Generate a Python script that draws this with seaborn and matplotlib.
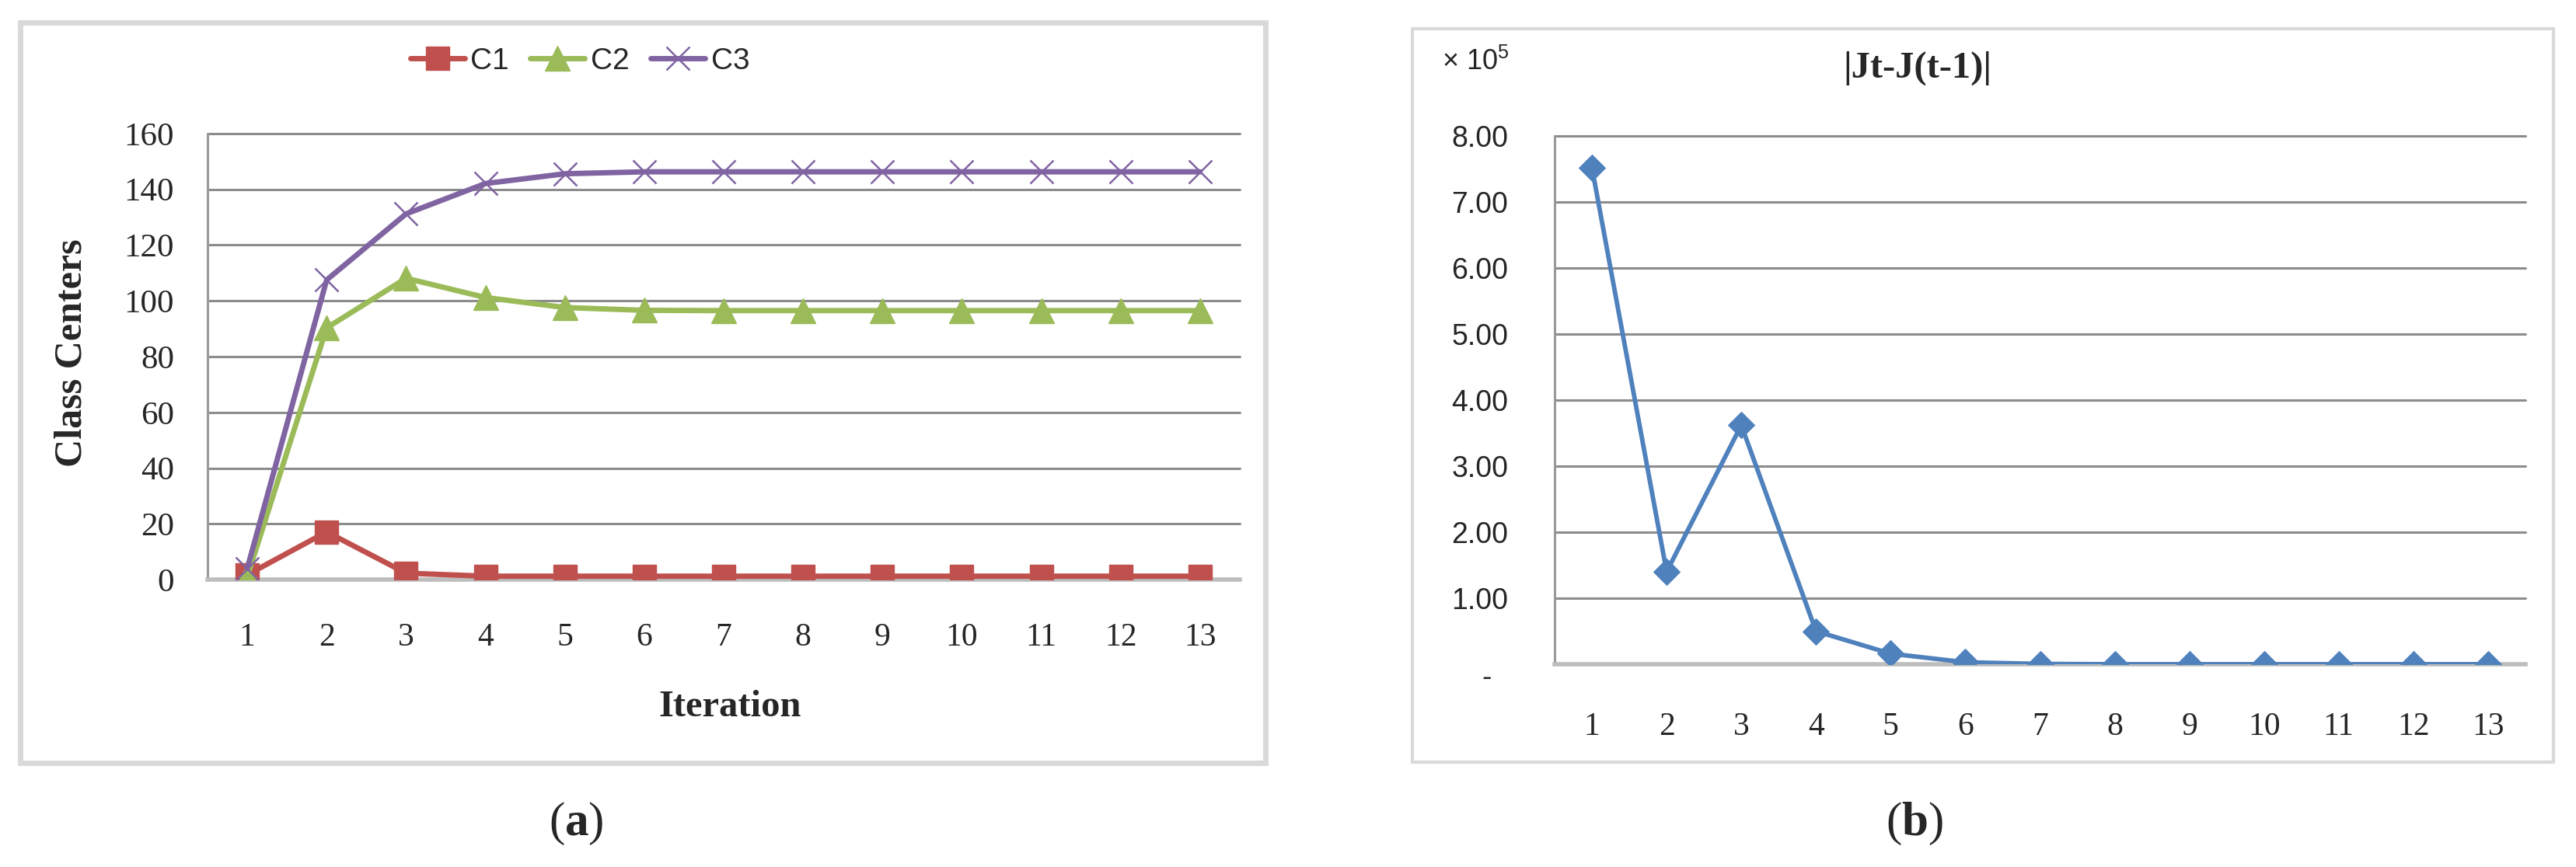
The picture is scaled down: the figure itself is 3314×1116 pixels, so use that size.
import numpy as np
import pandas as pd
import matplotlib
matplotlib.use('Agg')
import matplotlib.pyplot as plt
import seaborn as sns
from matplotlib.patches import Rectangle

# data
iterations = list(range(1, 14))
c1 = [1.7, 17.1, 2.3, 1.2, 1.2, 1.2, 1.2, 1.2, 1.2, 1.2, 1.2, 1.2, 1.2]
c2 = [1.0, 90.3, 108.1, 101.2, 97.6, 96.6, 96.5, 96.5, 96.5, 96.5, 96.5, 96.5, 96.5]
c3 = [4.0, 107.5, 131.2, 142.1, 145.6, 146.3, 146.3, 146.3, 146.3, 146.3, 146.3, 146.3, 146.3]
j_diff = [7.52, 1.40, 3.62, 0.50, 0.16, 0.03, 0.005, 0.0, 0.0, 0.0, 0.0, 0.0, 0.0]  # x 10^5
y_labels_b = ['-  ', '1.00', '2.00', '3.00', '4.00', '5.00', '6.00', '7.00', '8.00']

centers = pd.DataFrame({'Iteration': iterations, 'C1': c1, 'C2': c2, 'C3': c3})
jdf = pd.DataFrame({'Iteration': iterations, 'J': j_diff})

sns.set_style('white')
plt.rcParams['mathtext.fontset'] = 'custom'
plt.rcParams['mathtext.rm'] = 'Liberation Sans'
plt.rcParams['mathtext.bf'] = 'Liberation Serif:bold'

W, H = 3314, 1116
fig = plt.figure(figsize=(W / 100, H / 100), dpi=100)

def px(x0, y0, x1, y1):
    return [x0 / W, 1 - y1 / H, (x1 - x0) / W, (y1 - y0) / H]

# panel frames
fig.patches.append(Rectangle((26 / W, 1 - 982 / H), (1628 - 26) / W, (982 - 29) / H,
                             transform=fig.transFigure, fill=False, ec='#d9d9d9', lw=5))
fig.patches.append(Rectangle((1817 / W, 1 - 981 / H), (3285 - 1817) / W, (981 - 37) / H,
                             transform=fig.transFigure, fill=False, ec='#d9d9d9', lw=3))

grid_c = '#8c8c8c'
axis_c = '#bdbdbd'

ax1 = fig.add_axes(px(267, 172, 1595, 746))
ax2 = fig.add_axes(px(2000, 175, 3249, 855))

# (a) class centers
styles = {'C1': ('#C0504D', 's', 22, 1), 'C2': ('#9BBB59', '^', 23, 1), 'C3': ('#8064A2', 'x', 21, 1.8)}
for name, (col, mk, ms, mew) in styles.items():
    sns.lineplot(data=centers, x='Iteration', y=name, ax=ax1, color=col, lw=5,
                 marker=mk, mec=col, mew=mew, label=name, zorder=3)
    ax1.lines[-1].set_markersize(ms)

# (b) |Jt-J(t-1)|
sns.lineplot(data=jdf, x='Iteration', y='J', ax=ax2, color='#4F81BD', lw=4.2,
             marker='D', mec='#4F81BD', legend=False, zorder=3)
ax2.lines[-1].set_markersize(17)

for ax in (ax1, ax2):
    ax.set_xlim(0.5, 13.5)
    ax.set_xticks(np.arange(0.5, 14, 1))
    ax.set_xticklabels([])
    ax.tick_params(axis='x', which='major', length=11, width=2.8, color=axis_c, direction='out')
    ax.set_xlabel('')
    ax.set_ylabel('')
    ax.spines['top'].set_visible(False)
    ax.spines['right'].set_visible(False)
    ax.spines['left'].set_color('#9a9a9a')
    ax.spines['left'].set_linewidth(2.2)
    ax.spines['bottom'].set_color(axis_c)
    ax.spines['bottom'].set_linewidth(4)
    ax.yaxis.grid(True, color=grid_c, lw=2.2)
    for gl in ax.get_ygridlines():
        gl.set_clip_on(False)
    ax.set_axisbelow(True)

ax1.set_xticks(iterations, labels=[str(i) for i in iterations], minor=True)
ax1.tick_params(axis='x', which='minor', length=0, pad=40)
for t in ax1.get_xticklabels(minor=True):
    t.set_fontfamily('Liberation Serif')
    t.set_fontsize(30)
ax1.set_ylim(0, 160)
ax1.set_yticks(range(0, 161, 20))
ax1.tick_params(axis='y', length=11, width=2.2, color=grid_c, pad=20)
for t in ax1.get_yticklabels():
    t.set_fontfamily('Liberation Serif')
    t.set_fontsize(31)

ax2.set_xticks(iterations, labels=[str(i) for i in iterations], minor=True)
ax2.tick_params(axis='x', which='minor', length=0, pad=44)
for t in ax2.get_xticklabels(minor=True):
    t.set_fontfamily('Liberation Serif')
    t.set_fontsize(30)
ax2.set_ylim(0, 8)
ax2.set_yticks(range(0, 9), labels=y_labels_b)
ax2.tick_params(axis='y', length=9, width=2.2, color=grid_c, pad=34)
for t in ax2.get_yticklabels():
    t.set_fontfamily('Liberation Sans')
    t.set_fontsize(27)
# the "-" for zero sits a little below the axis line
ax2.get_yticklabels()[0].set_va('top')

leg = ax1.legend(loc='center', bbox_to_anchor=(746 / W, 1 - 79 / H), bbox_transform=fig.transFigure,
                 ncol=3, frameon=False, prop={'family': 'Liberation Sans', 'size': 28},
                 handlelength=1.8, handletextpad=0.2, columnspacing=0.7)
for h, (col, mk, ms, mew) in zip(leg.legend_handles, styles.values()):
    h.set_markersize(ms)

fig.text(93 / W, 1 - 454 / H, 'Class Centers', rotation=90, ha='center', va='center',
         family='Liberation Serif', weight='bold', size=36)
fig.text(939 / W, 1 - 910 / H, 'Iteration', ha='center', va='center',
         family='Liberation Serif', weight='bold', size=35)

fig.text(1855 / W, 1 - 80 / H, '× 10$^{5}$', ha='left', va='center',
         family='Liberation Sans', size=26)
fig.text(2467 / W, 1 - 88 / H, '|Jt-J(t-1)|', ha='center', va='center',
         family='Liberation Serif', weight='bold', size=35)

fig.text(741 / W, 1 - 1060 / H, r'($\mathbf{a}$)', ha='center', va='center',
         family='Liberation Serif', size=44)
fig.text(2463 / W, 1 - 1060 / H, r'($\mathbf{b}$)', ha='center', va='center',
         family='Liberation Serif', size=44)

fig.savefig('out.png', dpi=100, facecolor='white')
